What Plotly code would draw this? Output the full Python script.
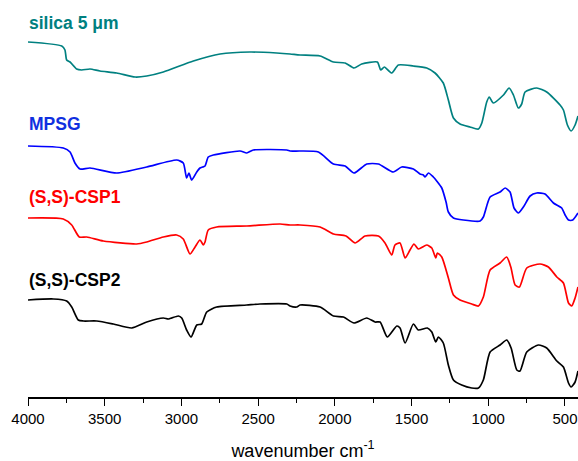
import plotly.graph_objects as go

# ---- data (wavenumber in cm-1, offset transmittance in arbitrary units) ----
silica_wn = [4000, 3780, 3759, 3748, 3726, 3683, 3650, 3596, 3531, 3422, 3302, 3226, 3118, 2922, 2748,
             2553, 2379, 2292, 2227, 2096, 2009, 1933, 1875, 1825, 1723, 1701, 1677, 1629, 1586, 1488,
             1401, 1347, 1293, 1260, 1227, 1184, 1119, 1064, 1042, 1010, 993, 967, 901, 864, 836, 804,
             782, 760, 684, 619, 532, 510, 484, 460, 434, 415]
silica_t = [355, 351, 347, 337, 335, 328, 327, 328, 326, 324, 320, 321, 325, 336, 343,
            345, 344, 343, 342, 341, 335, 334, 329, 333, 335, 327, 330, 324, 332, 331,
            329, 324, 314, 297, 279, 273, 270, 268, 274, 295, 300, 294, 302, 309, 302, 289,
            293, 305, 309, 305, 292, 287, 272, 266, 272, 281]

mpsg_wn = [4000, 3770, 3726, 3694, 3661, 3596, 3422, 3226, 3031, 2988, 2966, 2951, 2933, 2900, 2879,
           2861, 2846, 2825, 2792, 2618, 2574, 2531, 2313, 2292, 2227, 2107, 2009, 1933, 1875, 1792,
           1716, 1619, 1564, 1488, 1445, 1423, 1412, 1390, 1358, 1336, 1303, 1275, 1260, 1227, 1162,
           1053, 1032, 988, 923, 890, 858, 832, 804, 771, 727, 684, 630, 575, 521, 499, 477, 449, 415]
mpsg_t = [251, 249, 245, 234, 228, 229, 224, 230, 237, 234, 219, 224, 217, 225, 229,
          230, 231, 240, 242, 246, 244, 247, 247, 246, 246, 245, 233, 231, 224, 233,
          233, 225, 230, 228, 223, 222, 220, 224, 220, 216, 209, 195, 185, 179, 177,
          176, 180, 200, 205, 209, 205, 189, 184, 190, 201, 204, 203, 194, 189, 182, 177, 177, 184]

csp1_wn = [4000, 3770, 3715, 3666, 3617, 3509, 3292, 3226, 3118, 3031, 2988, 2944, 2911, 2879, 2857,
           2846, 2825, 2770, 2574, 2357, 2292, 2227, 2096, 2009, 1927, 1868, 1803, 1716, 1673, 1629,
           1608, 1575, 1542, 1510, 1484, 1456, 1401, 1368, 1342, 1332, 1303, 1260, 1227, 1184, 1108,
           1064, 1032, 988, 923, 880, 853, 825, 797, 749, 662, 608, 553, 510, 477, 456, 434, 415]
csp1_t = [179, 178, 172, 160, 160, 156, 153, 155, 160, 162, 158, 143, 150, 157, 152,
          155, 167, 170, 171, 173, 172, 172, 170, 163, 161, 154, 161, 161, 154, 142,
          152, 154, 139, 147, 153, 148, 152, 149, 139, 144, 140, 119, 102, 97, 93,
          91, 100, 127, 134, 140, 130, 112, 110, 129, 133, 130, 120, 114, 94, 91, 99, 110]

csp2_wn = [4000, 3835, 3748, 3715, 3672, 3639, 3552, 3444, 3324, 3226, 3118, 3085, 3020, 2998, 2966,
           2937, 2900, 2868, 2835, 2770, 2574, 2488, 2313, 2292, 2248, 2227, 2096, 2009, 1944, 1875,
           1792, 1738, 1705, 1658, 1596, 1575, 1542, 1488, 1456, 1397, 1368, 1342, 1325, 1293, 1260,
           1227, 1173, 1108, 1064, 1032, 988, 923, 880, 851, 814, 793, 749, 673, 619, 553, 510, 477,
           460, 434, 415]
csp2_t = [97, 98, 96, 90, 77, 76, 76, 73, 69, 75, 79, 78, 81, 79, 67,
          60, 72, 73, 85, 90, 92, 93, 93, 91, 90, 92, 90, 81, 80, 74,
          79, 75, 75, 60, 71, 69, 54, 73, 67, 69, 65, 55, 60, 54, 32,
          17, 12, 9, 9, 17, 45, 52, 57, 49, 27, 26, 45, 52, 49, 36, 30, 14,
          10, 15, 26]

names = ["silica 5 μm", "MPSG", "(S,S)-CSP1", "(S,S)-CSP2"]
colors = ["#008080", "#0000FF", "#FF0000", "#000000"]
label_colors = ["#008080", "#1030E0", "#FF0000", "#000000"]
label_y = [374, 273, 200, 117]
tick_vals = [4000, 3500, 3000, 2500, 2000, 1500, 1000, 500]

series = [(silica_wn, silica_t), (mpsg_wn, mpsg_t), (csp1_wn, csp1_t), (csp2_wn, csp2_t)]

fig = go.Figure()
for (xw, yt), nm, col in zip(series, names, colors):
    fig.add_trace(go.Scatter(x=xw, y=yt, mode="lines", name=nm,
                             line=dict(color=col, width=1.7, shape="spline", smoothing=0.6)))

for nm, col, yy in zip(names, label_colors, label_y):
    fig.add_annotation(text="<b>" + nm + "</b>", xref="paper", x=0, xanchor="left", xshift=-1,
                       yref="y", y=yy, yanchor="middle", showarrow=False,
                       font=dict(family="Liberation Sans, Arial", size=17.5, color=col))

fig.update_layout(
    width=578, height=461,
    margin=dict(l=28, r=0, t=0, b=64, autoexpand=False),
    paper_bgcolor="white", plot_bgcolor="white",
    showlegend=False,
    font=dict(family="Liberation Sans, Arial", color="#000000"),
)
fig.update_xaxes(
    range=[4000, 415], tickvals=tick_vals, ticktext=[str(v) for v in tick_vals],
    showline=True, linecolor="#000000", linewidth=1.5,
    ticks="outside", ticklen=7, tickwidth=1.3, tickcolor="#000000",
    minor=dict(tickvals=[3750, 3250, 2750, 2250, 1750, 1250, 750], ticks="outside",
               ticklen=4, tickwidth=1.2, tickcolor="#000000"),
    showgrid=False, zeroline=False, automargin=False,
    tickfont=dict(size=15, color="#000000"),
    title=dict(text="wavenumber cm<sup>-1</sup>", font=dict(size=18, color="#000000"), standoff=20),
)
fig.update_yaxes(range=[0, 397], visible=False, showgrid=False, zeroline=False)

fig.write_html("out.html", config={"displayModeBar": False},
               post_script="document.body.style.margin='0';document.body.style.overflow='hidden';")
